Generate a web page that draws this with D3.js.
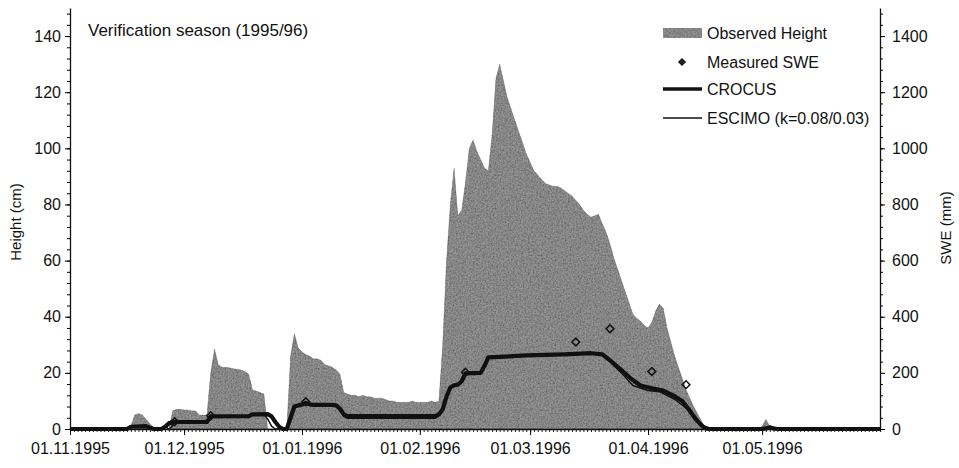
<!DOCTYPE html>
<html>
<head>
<meta charset="utf-8">
<script src="https://cdn.jsdelivr.net/npm/d3@7/dist/d3.min.js"></script>
<style>
  html, body { margin: 0; padding: 0; background: #fff; }
  svg { display: block; }
  text { font-family: "Liberation Sans", Arial, sans-serif; fill: #111; }
</style>
</head>
<body>
<svg id="chart" width="959" height="468"></svg>
<script>
// ---------------- DATA ----------------
const startDate = "1995-11-01";
const endDate = "1996-06-01";

// Observed snow height (cm), one value per day starting 01.11.1995
const heightCm = [
  0,0,0,0,0,0,0,0,0,0, 0,0,0,0,0,0,1,5,5.5,5,            // 0-19
  3.5,2,0.5,0,0,0,0,6.5,7,7, 6.8,6.8,6.5,6.5,5,5,5,20,28.5,23, // 20-39
  22,22,21.8,21.5,21.3,21,20.5,19.5,14,13.5, 13,12.5,0,0,0,0,0,0,26,34, // 40-59
  29,27.5,26.5,26,25,25,24.5,23,22.5,22, 21,19.5,13,12.5,12,12,11.5,12,11.5,11.5, // 60-79
  11,11,11,10.5,10,10,9.5,9.5,9.5,9.5, 10,9.5,9.5,9.5,9.5,10,9.5,10,30,60, // 80-99
  80,93,76,78,88,100,103,99,96,93, 92,105,125,130,124,118,114,110,106,102, // 100-119
  98,95,92,90.5,89,87.5,87,86.5,86.5,86, 85,84,83,81.5,80,78,76.5,75.5,76,76.5, // 120-139
  73,70,66,61,57,53,49,45,41,39.5, 38.5,37,36,38,42,44.5,43,36,31,26, // 140-159
  22,18,14,11,8,5.5,3,0.5,0,0, 0,0,0,0,0,0,0,0,0,0, // 160-179
  0,0,1,3.5,1,0,0,0,0,0, 0,0,0,0,0,0,0,0,0,0, // 180-199
  0,0,0,0,0,0,0,0,0,0, 0,0,0,0                  // 200-213
];

// Modelled SWE (mm): day offsets from 01.11.1995 and values
const crocusDay = [0,15,16,20,21,22,24,25,26,27,36,37,47,48,52,53,54,55,56,57,58,59,60,61,62,63,64,69,70,71,72,73,96,97,98,99,100,101,102,103,104,108,109,110,120,130,137,140,142,145,147,150,153,156,159,161,163,164,165,166,167,168,182,183,184,185,186,213];
const crocusSWE = [0,0,8,10,5,0,0,8,20,25,25,45,46,52,53,45,25,8,0,0,40,80,84,87,93,88,86,86,84,72,52,46,46,52,70,115,148,156,158,170,198,200,225,255,262,266,270,266,245,210,185,155,145,137,117,100,65,45,28,14,4,0,0,2,6,2,0,0];

const escimoDay = [0,15,16,20,21,22,24,25,26,27,36,37,47,48,51,52,53,54,57,58,59,60,61,62,63,64,69,70,71,72,73,96,97,98,99,100,101,102,103,104,108,109,110,120,130,137,140,142,145,148,152,155,159,162,164,165,166,167,168,182,183,184,185,186,213];
const escimoSWE = [0,0,6,8,4,0,0,8,18,24,24,44,45,50,52,35,10,0,0,38,78,82,86,92,87,85,85,82,68,45,38,38,48,68,112,145,154,156,168,196,198,222,252,260,264,268,262,240,200,155,137,133,106,75,45,29,14,3,0,0,2,5,2,0,0];

// Measured SWE (mm)
const measuredDay = [26,27.5,37,62,104,133,142,153,162];
const measuredSWE = [12,26,47,97,202,310,357,205,158];

// Axis ticks / labels
const heightTicks = [0,20,40,60,80,100,120,140];
const sweTicks = [0,200,400,600,800,1000,1200,1400];
const monthLabels = ["1995-11-01","1995-12-01","1996-01-01","1996-02-01","1996-03-01","1996-04-01","1996-05-01"];
const legendLabels = ["Observed Height","Measured SWE","CROCUS","ESCIMO (k=0.08/0.03)"];
const titleText = "Verification season (1995/96)";

// ---------------- CHART ----------------
(function () {
const svg = d3.select("#chart");
const mLeft = 70, mRight = 880, mTop = 8, mBottom = 429;

const parse = d3.timeParse("%Y-%m-%d");
const t0 = parse(startDate), t1 = parse(endDate);
const dayToDate = d => new Date(t0.getTime() + d * 86400000);

const x = d3.scaleTime().domain([t0, t1]).range([mLeft, mRight]);
const yL = d3.scaleLinear().domain([0, 150]).range([mBottom, mTop]);
const yR = d3.scaleLinear().domain([0, 1500]).range([mBottom, mTop]);

// texture filter
const defs = svg.append("defs");
const f = defs.append("filter").attr("id", "grain")
  .attr("x", "-5%").attr("y", "-5%").attr("width", "110%").attr("height", "110%");
f.append("feTurbulence").attr("type", "fractalNoise").attr("baseFrequency", 0.6)
  .attr("numOctaves", 2).attr("seed", 7).attr("result", "noise");
f.append("feColorMatrix").attr("in", "noise").attr("type", "saturate").attr("values", 0).attr("result", "gn");
const ct = f.append("feComponentTransfer").attr("in", "gn").attr("result", "gn2");
["feFuncR","feFuncG","feFuncB"].forEach(n => ct.append(n).attr("type", "linear").attr("slope", 1.4).attr("intercept", 0.1));
ct.append("feFuncA").attr("type", "linear").attr("slope", 0).attr("intercept", 1);
f.append("feBlend").attr("in", "SourceGraphic").attr("in2", "gn2").attr("mode", "multiply").attr("result", "b");
f.append("feComposite").attr("in", "b").attr("in2", "SourceGraphic").attr("operator", "in");

// Observed height area
const hData = heightCm.map((v, i) => ({ date: dayToDate(i), v }));
svg.append("path")
  .datum(hData)
  .attr("d", d3.area().x(d => x(d.date)).y0(yL(0)).y1(d => yL(d.v)))
  .attr("fill", "#949494")
  .attr("stroke", "#666")
  .attr("stroke-width", 0.7)
  .attr("filter", "url(#grain)");

// SWE lines
const line = d3.line().x(d => x(d.date)).y(d => yR(d.v));
const crocus = crocusDay.map((d, i) => ({ date: dayToDate(d), v: crocusSWE[i] }));
const escimo = escimoDay.map((d, i) => ({ date: dayToDate(d), v: escimoSWE[i] }));
svg.append("path").datum(crocus).attr("d", line)
  .attr("fill", "none").attr("stroke", "#111").attr("stroke-width", 4.2).attr("stroke-linejoin", "round");
svg.append("path").datum(escimo).attr("d", line)
  .attr("fill", "none").attr("stroke", "#111").attr("stroke-width", 1.5).attr("stroke-linejoin", "round");

// Measured points
const diamond = d3.symbol().type(d3.symbolSquare).size(30);
svg.append("g").selectAll("path")
  .data(measuredDay.map((d, i) => ({ date: dayToDate(d), v: measuredSWE[i] })))
  .join("path")
  .attr("d", diamond)
  .attr("transform", d => `translate(${x(d.date)},${yR(d.v)}) rotate(45)`)
  .attr("fill", "none").attr("stroke", "#111").attr("stroke-width", 1.5);

// Axes
const fontSize = 16;
svg.append("g").attr("transform", `translate(0,${mBottom})`)
  .call(d3.axisBottom(x).ticks(d3.timeDay.every(1)).tickSize(3).tickFormat(""))
  .call(g => g.select(".domain").remove())
  .call(g => g.selectAll("line").attr("stroke", "#222"));
const xAxis = svg.append("g").attr("transform", `translate(0,${mBottom})`)
  .call(d3.axisBottom(x).tickValues(monthLabels.map(parse))
    .tickFormat(d3.timeFormat("%d.%m.%Y")).tickSizeInner(6).tickSizeOuter(0).tickPadding(8));
xAxis.select(".domain").attr("stroke", "#111").attr("stroke-width", 1.3);
xAxis.selectAll("text").style("font-size", fontSize + "px").attr("fill", "#111");

svg.append("g").attr("transform", `translate(${mLeft},0)`)
  .call(d3.axisLeft(yL).tickValues(d3.range(0, 150, 4)).tickSize(3).tickFormat(""))
  .call(g => g.select(".domain").remove());
const yAxisL = svg.append("g").attr("transform", `translate(${mLeft},0)`)
  .call(d3.axisLeft(yL).tickValues(heightTicks).tickFormat(d3.format("d"))
    .tickSizeInner(5).tickSizeOuter(0).tickPadding(4));
yAxisL.select(".domain").attr("stroke", "#111").attr("stroke-width", 1.3);
yAxisL.selectAll("text").style("font-size", fontSize + "px").attr("fill", "#111");

svg.append("g").attr("transform", `translate(${mRight},0)`)
  .call(d3.axisRight(yR).tickValues(d3.range(0, 1500, 40)).tickSize(3).tickFormat(""))
  .call(g => g.select(".domain").remove());
const yAxisR = svg.append("g").attr("transform", `translate(${mRight},0)`)
  .call(d3.axisRight(yR).tickValues(sweTicks).tickFormat(d3.format("d"))
    .tickSizeInner(5).tickSizeOuter(0).tickPadding(7));
yAxisR.select(".domain").attr("stroke", "#111").attr("stroke-width", 1.3);
yAxisR.selectAll("text").style("font-size", fontSize + "px").attr("fill", "#111");

// Axis titles
svg.append("text").attr("transform", `translate(21,222) rotate(-90)`)
  .attr("text-anchor", "middle").style("font-size", "15px").text("Height (cm)");
svg.append("text").attr("transform", `translate(951,228) rotate(-90)`)
  .attr("text-anchor", "middle").style("font-size", "15px").text("SWE (mm)");

// Title
svg.append("text").attr("x", 88).attr("y", 36).style("font-size", "17px").text(titleText);

// Legend
const lg = svg.append("g");
const lx = 663, lw = 39, tx = 707;
const ly = [33, 62, 89, 118];
lg.append("rect").attr("x", lx).attr("y", ly[0] - 5).attr("width", lw).attr("height", 10)
  .attr("fill", "#949494").attr("filter", "url(#grain)");
lg.append("path").attr("d", d3.symbol().type(d3.symbolSquare).size(22))
  .attr("transform", `translate(682,${ly[1]}) rotate(45)`).attr("fill", "#222").attr("stroke", "#111").attr("stroke-width", 1);
lg.append("line").attr("x1", lx).attr("x2", lx + lw).attr("y1", ly[2]).attr("y2", ly[2])
  .attr("stroke", "#111").attr("stroke-width", 3.5);
lg.append("line").attr("x1", lx).attr("x2", lx + lw).attr("y1", ly[3]).attr("y2", ly[3])
  .attr("stroke", "#111").attr("stroke-width", 1.5);
legendLabels.forEach((t, i) => {
  lg.append("text").attr("x", tx).attr("y", ly[i]).attr("dy", "0.35em")
    .style("font-size", "16px").text(t);
});
})();
</script>
</body>
</html>
